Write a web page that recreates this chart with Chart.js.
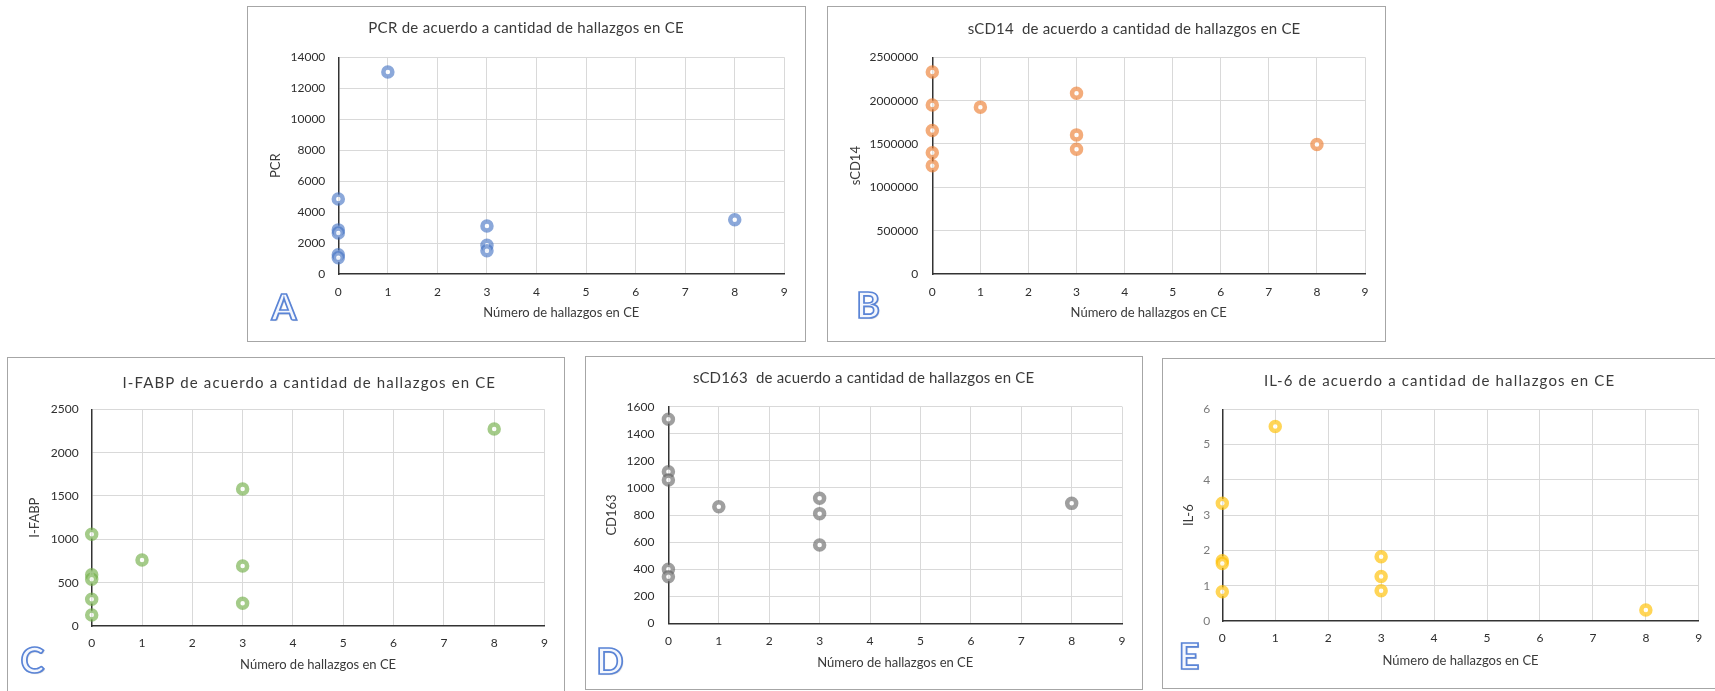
<!DOCTYPE html>
<html>
<head>
<meta charset="utf-8">
<script src="https://cdn.jsdelivr.net/npm/chart.js@4.4.1/dist/chart.umd.min.js"></script>
<style>
  html, body { margin:0; padding:0; background:#ffffff; width:1715px; height:691px; overflow:hidden; }
  .panel { position:absolute; }
  .panel canvas { position:absolute; left:0; top:0; }
  .frame { position:absolute; left:0; top:0; box-sizing:border-box; border:1px solid #a6a6a6; pointer-events:none; }
</style>
</head>
<body>
<script>
// ---------------- DATA ----------------
const xTickValues = [0, 1, 2, 3, 4, 5, 6, 7, 8, 9];
const xAxisTitle = 'Número de hallazgos en CE';

const panelLetters = ['A', 'B', 'C', 'D', 'E'];
const panelTitles = [
  'PCR de acuerdo a cantidad de hallazgos en CE',
  'sCD14  de acuerdo a cantidad de hallazgos en CE',
  'I-FABP de acuerdo a cantidad de hallazgos en CE',
  'sCD163  de acuerdo a cantidad de hallazgos en CE',
  'IL-6 de acuerdo a cantidad de hallazgos en CE'
];
const yAxisTitles = ['PCR', 'sCD14', 'I-FABP', 'CD163', 'IL-6'];
const yMaxValues = [14000, 2500000, 2500, 1600, 6];
const yStepValues = [2000, 500000, 500, 200, 1];

const pcrX   = [0, 0, 0, 0, 0, 1, 3, 3, 3, 8];
const pcrY   = [4850, 2850, 2650, 1250, 1050, 13050, 3100, 1850, 1500, 3500];

const scd14X = [0, 0, 0, 0, 0, 1, 3, 3, 3, 8];
const scd14Y = [2330000, 1950000, 1655000, 1400000, 1250000, 1925000, 2085000, 1605000, 1440000, 1495000];

const ifabpX = [0, 0, 0, 0, 0, 1, 3, 3, 3, 8];
const ifabpY = [1058, 590, 540, 308, 127, 761, 1580, 692, 262, 2273];

const scd163X = [0, 0, 0, 0, 0, 1, 3, 3, 3, 8];
const scd163Y = [1507, 1120, 1058, 399, 344, 861, 923, 810, 578, 886];

const il6X = [0, 0, 0, 0, 1, 3, 3, 3, 8];
const il6Y = [3.34, 1.71, 1.63, 0.83, 5.51, 1.82, 1.26, 0.86, 0.31];

const seriesX = [pcrX, scd14X, ifabpX, scd163X, il6X];
const seriesY = [pcrY, scd14Y, ifabpY, scd163Y, il6Y];

// ---------------- STYLE / LAYOUT ----------------
const pointColors = [
  'rgba(68,114,196,0.62)',
  'rgba(237,125,49,0.64)',
  'rgba(112,173,71,0.64)',
  'rgba(100,100,100,0.62)',
  'rgba(255,192,0,0.66)'
];
const yTickColors = ['#2e2e2e', '#2e2e2e', '#2e2e2e', '#2e2e2e', '#7a7a7a'];

// page-pixel layout of each panel
const layouts = [
  { box:{x:247, y:6,   w:559, h:336}, plot:{l:338.3, r:784.3,  t:57.3,  b:274},   title:{cx:526,    cy:28.5,  w:316},   yTitleX:276,    xTitleY:313,   yGap:13, xTickY:291.7, letter:{cx:284,  cy:308} },
  { box:{x:827, y:6,   w:559, h:336}, plot:{l:932.3, r:1365,   t:57.3,  b:274},   title:{cx:1134,   cy:29,    w:333},   yTitleX:856,    xTitleY:313,   yGap:14, xTickY:291.7, letter:{cx:868,  cy:306} },
  { box:{x:7,   y:357, w:558, h:345}, plot:{l:91.7,  r:544.5,  t:409.3, b:626},   title:{cx:308.7,  cy:383.3, w:374},   yTitleX:35,     xTitleY:665,   yGap:13, xTickY:643.3, letter:{cx:32.5, cy:661.7} },
  { box:{x:585, y:356, w:558, h:334}, plot:{l:668.4, r:1122.1, t:406.7, b:623.3}, title:{cx:863.5,  cy:378.3, w:341.7}, yTitleX:612.3,  xTitleY:663.3, yGap:14, xTickY:640.7, letter:{cx:610,  cy:662} },
  { box:{x:1162,y:358, w:559, h:331}, plot:{l:1222.3,r:1698.8, t:409.3, b:621},   title:{cx:1439,   cy:380.7, w:351.6}, yTitleX:1189.3, xTitleY:660.7, yGap:12, xTickY:638.3, letter:{cx:1189, cy:657} }
];

const FONT = 'Lato, "Open Sans", "DejaVu Sans", sans-serif';
const TICK_SIZE = 12, TICK_LH = TICK_SIZE * 1.2;
const AXT_SIZE = 13, AXT_LH = AXT_SIZE * 1.2;
const TITLE_SIZE = 15;

// plugin that draws the chart title and the panel letter
const decoPlugin = {
  id: 'panelDeco',
  afterDraw(chart, args, o) {
    const ctx = chart.ctx;
    ctx.save();
    ctx.textAlign = 'center';
    ctx.textBaseline = 'middle';
    ctx.font = TITLE_SIZE + 'px ' + FONT;
    ctx.fillStyle = '#3a3a3a';
    const hasLS = ('letterSpacing' in ctx);
    if (hasLS) ctx.letterSpacing = '0px';
    const w0 = ctx.measureText(o.text).width;
    let ls = 0;
    if (hasLS) {
      ls = (o.width - w0) / o.text.length;
      ctx.letterSpacing = ls + 'px';
    }
    ctx.fillText(o.text, o.x + ls / 2, o.y);
    if (hasLS) ctx.letterSpacing = '0px';
    // letter
    ctx.font = 'bold 36px ' + FONT;
    ctx.shadowColor = 'rgba(0,0,0,0.18)';
    ctx.shadowOffsetX = 1;
    ctx.shadowOffsetY = 1;
    ctx.shadowBlur = 1;
    ctx.fillStyle = '#f4f7fd';
    ctx.fillText(o.letter, o.lx, o.ly);
    ctx.shadowColor = 'transparent';
    ctx.lineWidth = 1.7;
    ctx.strokeStyle = '#5a84d6';
    ctx.strokeText(o.letter, o.lx, o.ly);
    ctx.restore();
  }
};

function buildPanel(i) {
  const L = layouts[i];
  const bx = L.box.x, by = L.box.y, W = L.box.w, H = L.box.h;
  const padLeft = L.yTitleX - bx - AXT_LH / 2;
  const yW = L.plot.l - bx - padLeft;
  const padRight = bx + W - L.plot.r;
  const padTop = L.plot.t - by;
  const padBottom = by + H - L.xTitleY - AXT_LH / 2;
  const xH = (by + H - padBottom) - L.plot.b;
  const xTickPad = L.xTickY - L.plot.b - TICK_LH / 2;

  const wrap = document.createElement('div');
  wrap.className = 'panel';
  wrap.style.left = bx + 'px';
  wrap.style.top = by + 'px';
  wrap.style.width = W + 'px';
  wrap.style.height = H + 'px';
  const cv = document.createElement('canvas');
  cv.width = W; cv.height = H;
  cv.style.width = W + 'px'; cv.style.height = H + 'px';
  wrap.appendChild(cv);
  const fr = document.createElement('div');
  fr.className = 'frame';
  fr.style.width = W + 'px';
  fr.style.height = H + 'px';
  wrap.appendChild(fr);
  document.body.appendChild(wrap);

  const xs = seriesX[i], ys = seriesY[i];
  const points = xs.map((x, k) => ({ x: x, y: ys[k] }));
  const gridColor = (c) => (c.index === 0 ? 'rgba(0,0,0,0)' : '#d9d9d9');

  new Chart(cv, {
    type: 'scatter',
    data: {
      datasets: [{
        label: yAxisTitles[i],
        data: points,
        pointRadius: 4.5,
        pointHoverRadius: 4.5,
        pointBorderWidth: 4.5,
        pointHoverBorderWidth: 4.5,
        pointBorderColor: pointColors[i],
        pointBackgroundColor: 'rgba(255,255,255,0.85)',
        clip: false
      }]
    },
    options: {
      responsive: false,
      devicePixelRatio: 1,
      animation: false,
      events: [],
      layout: { padding: { left: padLeft, right: padRight, top: padTop, bottom: padBottom } },
      plugins: {
        legend: { display: false },
        tooltip: { enabled: false },
        title: { display: false },
        panelDeco: {
          text: panelTitles[i], width: L.title.w,
          x: L.title.cx - bx, y: L.title.cy - by,
          letter: panelLetters[i], lx: L.letter.cx - bx, ly: L.letter.cy - by
        }
      },
      scales: {
        x: {
          type: 'linear',
          min: xTickValues[0],
          max: xTickValues[xTickValues.length - 1],
          afterBuildTicks: (s) => { s.ticks = xTickValues.map(v => ({ value: v })); },
          afterFit: (s) => { s.height = xH; },
          ticks: { padding: xTickPad, color: '#2e2e2e', font: { size: TICK_SIZE, family: FONT }, maxRotation: 0, autoSkip: false, callback: (v) => String(v) },
          grid: { color: gridColor, lineWidth: 1, drawTicks: false },
          border: { display: true, color: '#333333', width: 1.5 },
          title: { display: true, text: xAxisTitle, color: '#3a3a3a', font: { size: AXT_SIZE, family: FONT }, padding: 0 }
        },
        y: {
          type: 'linear',
          min: 0,
          max: yMaxValues[i],
          ticks: { stepSize: yStepValues[i], padding: L.yGap, color: yTickColors[i], font: { size: TICK_SIZE, family: FONT }, callback: (v) => String(v) },
          afterFit: (s) => { s.width = yW; },
          grid: { color: gridColor, lineWidth: 1, drawTicks: false },
          border: { display: true, color: '#333333', width: 1.5 },
          title: { display: true, text: yAxisTitles[i], color: '#3a3a3a', font: { size: AXT_SIZE, family: FONT }, padding: 0 }
        }
      }
    },
    plugins: [decoPlugin]
  });
}

function start() {
  for (let i = 0; i < layouts.length; i++) buildPanel(i);
}
const fontLoads = document.fonts && document.fonts.load
  ? Promise.all([document.fonts.load('12px Lato'), document.fonts.load('bold 36px Lato'), document.fonts.load('15px Lato')])
  : Promise.resolve();
let started = false;
const go = () => { if (!started) { started = true; start(); } };
fontLoads.then(go, go);
setTimeout(go, 800);
</script>
</body>
</html>
